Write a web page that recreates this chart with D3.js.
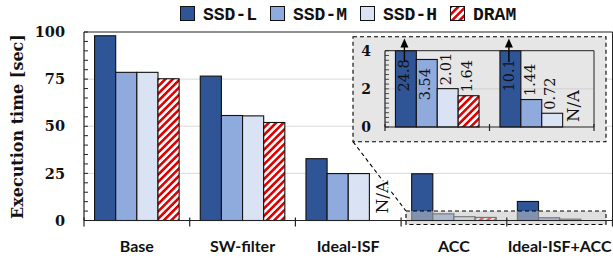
<!DOCTYPE html>
<html><head><meta charset="utf-8">
<script src="https://cdn.jsdelivr.net/npm/d3@7"></script>
<style>body{margin:0;background:#fff}svg{display:block}</style>
</head><body>
<script>
const categories = ["Base","SW-filter","Ideal-ISF","ACC","Ideal-ISF+ACC"];
const seriesNames = ["SSD-L","SSD-M","SSD-H","DRAM"];
const ssdL = [98, 76.6, 32.8, 24.8, 10.1];
const ssdM = [78.6, 55.7, 24.9, 3.54, 1.44];
const ssdH = [78.6, 55.5, 24.9, 2.01, 0.72];
const dram = [75.2, 52, null, 1.64, null];
const yTicks = [0, 25, 50, 75, 100];
const insetCategories = ["ACC","Ideal-ISF+ACC"];
const insetTicks = [0, 2, 4];

const colors = {"SSD-L":"#2f5597","SSD-M":"#8faadc","SSD-H":"#dae3f3","DRAM":"url(#stripes)"};
const valuesBy = {"SSD-L":ssdL,"SSD-M":ssdM,"SSD-H":ssdH,"DRAM":dram};

const W=613,H=258;
const svg=d3.select("body").append("svg").attr("width",W).attr("height",H);
const defs=svg.append("defs");
const pat=defs.append("pattern").attr("id","stripes").attr("patternUnits","userSpaceOnUse")
  .attr("width",5.2).attr("height",5.2).attr("patternTransform","rotate(45)");
pat.append("rect").attr("width",5.2).attr("height",5.2).attr("fill","#fff");
pat.append("rect").attr("width",2.6).attr("height",5.2).attr("fill","#e00000");

const serif="'DejaVu Serif', serif";
const L=84,R=612.5,T=32,B=220.5;
const x0=d3.scaleBand().domain(categories).range([L,R]);
const x1=d3.scaleBand().domain(seriesNames).range([x0.bandwidth()*0.1,x0.bandwidth()*0.9]);
const y=d3.scaleLinear().domain([0,100]).range([B,T]);

// gridlines
svg.append("g").selectAll("line").data(yTicks.filter(t=>t>0&&t<100)).join("line")
  .attr("x1",L).attr("x2",R).attr("y1",d=>y(d)).attr("y2",d=>y(d))
  .attr("stroke","#d9d9d9").attr("stroke-width",1);

// bars
const rows=[];
categories.forEach((c,i)=>seriesNames.forEach(s=>rows.push({c,s,v:valuesBy[s][i]})));
svg.append("g").selectAll("rect").data(rows.filter(d=>d.v!=null)).join("rect")
  .attr("x",d=>x0(d.c)+x1(d.s)).attr("width",x1.bandwidth())
  .attr("y",d=>y(d.v)).attr("height",d=>y(0)-y(d.v))
  .attr("fill",d=>colors[d.s]).attr("stroke","#111").attr("stroke-width",1.1);

// connector line and N/A
const insetBox={x:353,y:36.7,w:253,h:105};
const smallBox={x:406,y:211,w:200,h:13.5};
svg.append("line").attr("x1",insetBox.x).attr("y1",insetBox.y+insetBox.h)
  .attr("x2",smallBox.x).attr("y2",smallBox.y).attr("stroke","#000")
  .attr("stroke-width",1.1).attr("stroke-dasharray","4,3");
rows.filter(d=>d.v==null && d.c!=="Ideal-ISF+ACC").forEach(d=>{
  const cx=x0(d.c)+x1(d.s)+x1.bandwidth()/2+2.5;
  svg.append("text").attr("transform",`translate(${cx},${B-7}) rotate(-90)`)
    .attr("dy","0.35em").attr("font-family",serif).attr("font-size",17)
    .attr("fill","#111").attr("stroke","#fff").attr("stroke-width",4)
    .attr("paint-order","stroke").text("N/A");
});

// small highlighted box
svg.append("rect").attr("x",smallBox.x).attr("y",smallBox.y).attr("width",smallBox.w).attr("height",smallBox.h)
  .attr("fill","#c4c4c4").attr("fill-opacity",0.55).attr("stroke","#000").attr("stroke-width",1.1)
  .attr("stroke-dasharray","4,3");

// main frame
svg.append("line").attr("x1",L).attr("x2",R).attr("y1",T).attr("y2",T).attr("stroke","#222").attr("stroke-width",1);
svg.append("line").attr("x1",R).attr("x2",R).attr("y1",T).attr("y2",B).attr("stroke","#222").attr("stroke-width",1);
svg.append("line").attr("x1",L).attr("x2",L).attr("y1",T).attr("y2",B).attr("stroke","#222").attr("stroke-width",1.2);
svg.append("line").attr("x1",L).attr("x2",R).attr("y1",B).attr("y2",B).attr("stroke","#222").attr("stroke-width",1.2);
// minor y ticks
svg.append("g").selectAll("line").data(d3.range(0,101,5)).join("line")
  .attr("x1",L).attr("x2",L+4).attr("y1",d=>y(d)).attr("y2",d=>y(d)).attr("stroke","#222").attr("stroke-width",1);
// y tick labels
svg.append("g").selectAll("text").data(yTicks).join("text")
  .attr("x",65).attr("y",d=>y(d)).attr("dy","0.36em").attr("text-anchor","end")
  .attr("font-family",serif).attr("font-weight","bold").attr("font-size",14.5).attr("fill","#111").text(d=>d);
// x boundary ticks
const bounds=categories.map(c=>x0(c)).concat([R]);
svg.append("g").selectAll("line").data(bounds).join("line")
  .attr("x1",d=>d).attr("x2",d=>d).attr("y1",B-3).attr("y2",B+6).attr("stroke","#222").attr("stroke-width",1.2);
// x labels
svg.append("g").selectAll("text").data(categories).join("text")
  .attr("x",d=>x0(d)+x0.bandwidth()/2).attr("y",252).attr("text-anchor","middle")
  .attr("font-family","Lato, sans-serif").attr("font-weight","bold").attr("font-size",16).attr("fill","#111").text(d=>d);
// y title
svg.append("text").attr("transform","translate(23,126.5) rotate(-90)").attr("text-anchor","middle")
  .attr("font-family",serif).attr("font-weight","bold").attr("font-size",16).attr("fill","#111")
  .text("Execution time [sec]");

// legend
const lg=svg.append("g");
seriesNames.forEach((s,i)=>{
  const lx=180+i*90;
  lg.append("rect").attr("x",lx+0.5).attr("y",6.5).attr("width",14).attr("height",14)
    .attr("fill",colors[s]).attr("stroke","#111").attr("stroke-width",1);
  lg.append("text").attr("x",lx+23).attr("y",19.5).attr("font-family","'Liberation Mono', monospace")
    .attr("font-weight","bold").attr("font-size",18).attr("fill","#111").text(s);
});

// inset
const ins=svg.append("g");
ins.append("rect").attr("x",insetBox.x).attr("y",insetBox.y).attr("width",insetBox.w).attr("height",insetBox.h)
  .attr("fill","#e7e6e6").attr("stroke","#000").attr("stroke-width",1.1).attr("stroke-dasharray","4,3");
const iL=385,iR=594,iT=50.7,iB=127;
const ix0=d3.scaleBand().domain(insetCategories).range([iL,iR]);
const ix1=d3.scaleBand().domain(seriesNames).range([ix0.bandwidth()*0.1,ix0.bandwidth()*0.9]);
const iy=d3.scaleLinear().domain([0,4]).range([iB,iT]);
ins.append("line").attr("x1",iL).attr("x2",iR).attr("y1",iy(2)).attr("y2",iy(2)).attr("stroke","#d2d2d2");
const irows=[];
insetCategories.forEach(c=>{const i=categories.indexOf(c);seriesNames.forEach(s=>irows.push({c,s,v:valuesBy[s][i]}));});
const fmt=d3.format(".3~r");
irows.forEach(d=>{
  const bx=ix0(d.c)+ix1(d.s), cx=bx+ix1.bandwidth()/2;
  if(d.v==null){
    ins.append("text").attr("transform",`translate(${cx},${iB-5}) rotate(-90)`).attr("dy","0.35em")
      .attr("font-family",serif).attr("font-size",16.5).attr("fill","#111").text("N/A");
    return;
  }
  const clipped=d.v>4, top=iy(Math.min(d.v,4));
  ins.append("rect").attr("x",bx).attr("width",ix1.bandwidth()).attr("y",top).attr("height",iB-top)
    .attr("fill",colors[d.s]).attr("stroke","#111").attr("stroke-width",1.1);
  if(clipped){
    ins.append("line").attr("x1",cx-1.5).attr("x2",cx-1.5).attr("y1",62).attr("y2",46).attr("stroke","#000").attr("stroke-width",1.4);
    ins.append("path").attr("d",`M${cx-1.5},38.5 L${cx-5.5},47.5 L${cx+2.5},47.5 Z`).attr("fill","#000");
  }
  const inside=(iB-top)>50;
  ins.append("text").attr("transform",`translate(${cx},${inside?top+8.5:top-3.5}) rotate(-90)`)
    .attr("dy","0.22em").attr("text-anchor",inside?"end":"start")
    .attr("font-family",serif).attr("font-size",14.5).attr("fill","#111").text(fmt(d.v));
});
ins.append("line").attr("x1",iL).attr("x2",iR).attr("y1",iT).attr("y2",iT).attr("stroke","#222").attr("stroke-width",1);
ins.append("line").attr("x1",iR).attr("x2",iR).attr("y1",iT).attr("y2",iB).attr("stroke","#222").attr("stroke-width",1);
ins.append("line").attr("x1",iL).attr("x2",iL).attr("y1",iT).attr("y2",iB).attr("stroke","#222").attr("stroke-width",1.2);
ins.append("line").attr("x1",iL).attr("x2",iR).attr("y1",iB).attr("y2",iB).attr("stroke","#222").attr("stroke-width",1.2);
ins.append("g").selectAll("line").data(d3.range(0,4.01,0.25)).join("line")
  .attr("x1",iL).attr("x2",iL+4).attr("y1",d=>iy(d)).attr("y2",d=>iy(d)).attr("stroke","#222").attr("stroke-width",0.8);
ins.append("g").selectAll("line").data(insetCategories.map(c=>ix0(c)).concat([iR])).join("line")
  .attr("x1",d=>d).attr("x2",d=>d).attr("y1",iB-3).attr("y2",iB+4).attr("stroke","#222").attr("stroke-width",1.2);
ins.append("g").selectAll("text").data(insetTicks).join("text")
  .attr("x",371).attr("y",d=>iy(d)).attr("dy","0.36em").attr("text-anchor","end")
  .attr("font-family",serif).attr("font-weight","bold").attr("font-size",14).attr("fill","#111").text(d=>d);
</script>
</body></html>
